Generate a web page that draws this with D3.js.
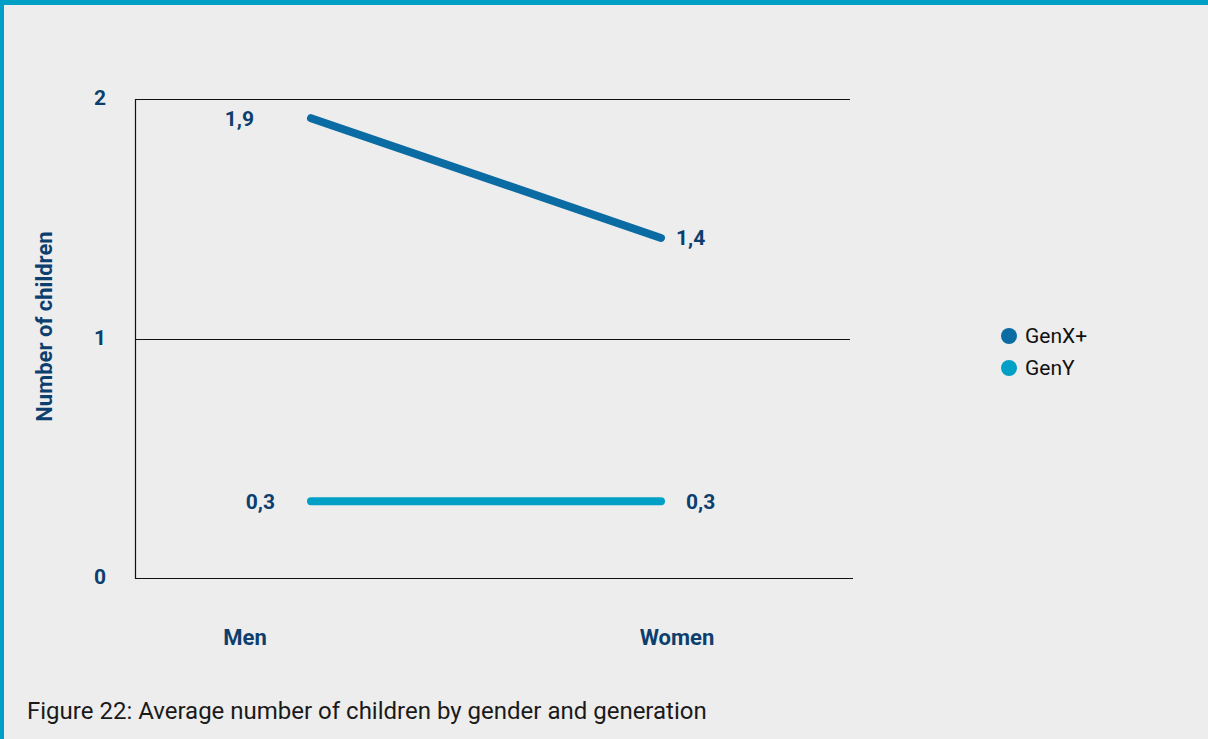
<!DOCTYPE html>
<html>
<head>
<meta charset="utf-8">
<script src="https://cdn.jsdelivr.net/npm/d3@7"></script>
<style>
  html, body { margin: 0; padding: 0; background: #ededed; }
  svg { display: block; font-family: Roboto, "Noto Sans", sans-serif; }
</style>
</head>
<body>
<svg id="chart" width="1208" height="739"></svg>
<script>
// Average number of children, by gender (categories) and generation (series)
const categories = ["Men", "Women"];
const seriesNames = ["GenX+", "GenY"];
const genXValues = [1.92, 1.42];
const genYValues = [0.32, 0.32];
const yTicks = [0, 1, 2];
const caption = "Figure 22: Average number of children by gender and generation";
const yTitle = "Number of children";

const colors = { "GenX+": "#0b6ba3", "GenY": "#00a0c6" };
const navy = "#0d3f6e";

// Horizontal offsets of the value labels from their points (first point, last point)
const labelOffsets = { "GenX+": [-57, 15], "GenY": [-36, 25] };

const series = [
  { name: seriesNames[0], values: genXValues },
  { name: seriesNames[1], values: genYValues }
];

const svg = d3.select("#chart");
const W = 1208, H = 739;

// Background panel with the accent border on top and left
svg.append("rect").attr("width", W).attr("height", H).attr("fill", "#ededed");
svg.append("rect").attr("x", 0).attr("y", 0).attr("width", W).attr("height", 5).attr("fill", "#00a0c6");
svg.append("rect").attr("x", 0).attr("y", 0).attr("width", 4).attr("height", H).attr("fill", "#00a0c6");

const plot = { left: 135, right: 850, top: 99, bottom: 578 };

const y = d3.scaleLinear().domain([0, 2]).range([plot.bottom, plot.top]);
const x = d3.scalePoint().domain(categories).range([311, 661]);
const xLabel = d3.scalePoint().domain(categories).range([245, 677]);

// Horizontal gridlines
svg.append("g").selectAll("line")
  .data(yTicks)
  .join("line")
  .attr("x1", plot.left)
  .attr("x2", d => d === 0 ? plot.right + 3 : plot.right)
  .attr("y1", d => Math.round(y(d)) + 0.5)
  .attr("y2", d => Math.round(y(d)) + 0.5)
  .attr("stroke", "#111")
  .attr("stroke-width", 1.2);

// Left axis line
svg.append("line")
  .attr("x1", plot.left + 0.5).attr("x2", plot.left + 0.5)
  .attr("y1", y(2)).attr("y2", y(0) + 1)
  .attr("stroke", "#111").attr("stroke-width", 1.2);

// Y tick labels
svg.append("g").selectAll("text")
  .data(yTicks)
  .join("text")
  .attr("x", 100)
  .attr("y", d => y(d) - 1)
  .attr("dy", "0.35em")
  .attr("text-anchor", "middle")
  .attr("font-size", 21)
  .attr("font-weight", 700)
  .attr("fill", navy)
  .text(d => d);

// Y axis title
svg.append("text")
  .attr("transform", `translate(52, ${y(1) - 12}) rotate(-90)`)
  .attr("text-anchor", "middle")
  .attr("font-size", 22)
  .attr("font-weight", 700)
  .attr("fill", navy)
  .text(yTitle);

// Category labels
svg.append("g").selectAll("text")
  .data(categories)
  .join("text")
  .attr("x", d => xLabel(d))
  .attr("y", 645)
  .attr("text-anchor", "middle")
  .attr("font-size", 22)
  .attr("font-weight", 700)
  .attr("fill", navy)
  .text(d => d);

// Series lines
const line = d3.line()
  .x((d, i) => x(categories[i]))
  .y(d => y(d));

svg.append("g").selectAll("path")
  .data(series)
  .join("path")
  .attr("d", d => line(d.values))
  .attr("fill", "none")
  .attr("stroke", d => colors[d.name])
  .attr("stroke-width", 8)
  .attr("stroke-linecap", "round");

// Data labels: left of the first point, right of the last point
const fmt = v => d3.format(".1f")(v).replace(".", ",");
const labels = [];
series.forEach(s => {
  s.values.forEach((v, i) => {
    labels.push({ v, i, name: s.name });
  });
});
svg.append("g").selectAll("text")
  .data(labels)
  .join("text")
  .attr("x", d => x(categories[d.i]) + labelOffsets[d.name][d.i])
  .attr("y", d => y(d.v))
  .attr("dy", "0.35em")
  .attr("text-anchor", d => d.i === 0 ? "end" : "start")
  .attr("font-size", 21)
  .attr("font-weight", 700)
  .attr("fill", navy)
  .text(d => fmt(d.v));

// Legend
const legend = svg.append("g").attr("transform", "translate(1009, 336)");
const items = legend.selectAll("g")
  .data(seriesNames)
  .join("g")
  .attr("transform", (d, i) => `translate(0, ${i * 32})`);
items.append("circle").attr("r", 8).attr("fill", d => colors[d]);
items.append("text")
  .attr("x", 16)
  .attr("dy", "0.35em")
  .attr("font-size", 21)
  .attr("fill", "#111")
  .text(d => d);

// Caption
svg.append("text")
  .attr("x", 27)
  .attr("y", 719)
  .attr("font-size", 24)
  .attr("fill", "#1a1a1a")
  .text(caption);
</script>
</body>
</html>
